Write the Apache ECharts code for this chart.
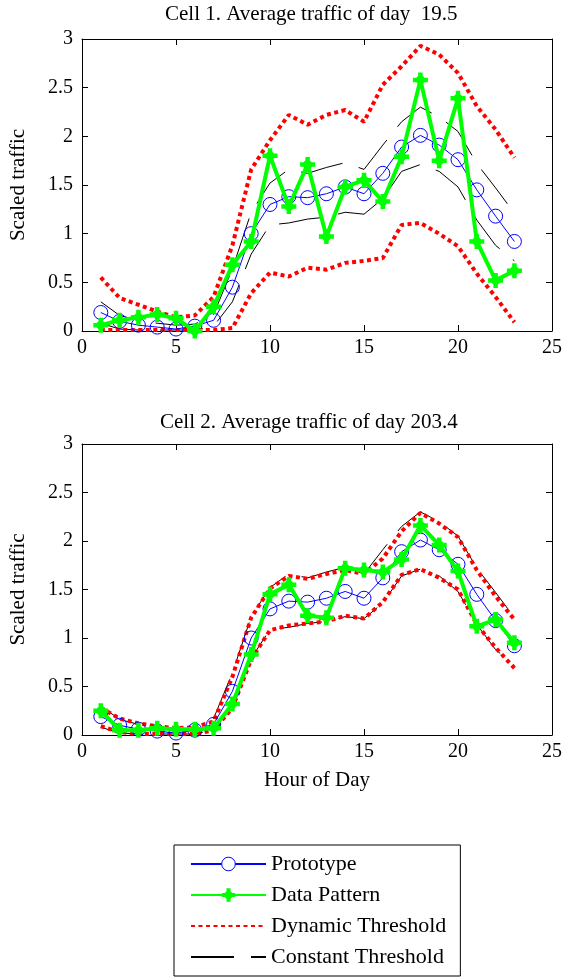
<!DOCTYPE html>
<html><head><meta charset="utf-8">
<script src="https://cdn.jsdelivr.net/npm/echarts@6/dist/echarts.min.js"></script>
<style>html,body{margin:0;padding:0;background:#fff}#c{width:565px;height:978px}</style>
</head><body><div id="c"></div>
<script>
const hours = [1,2,3,4,5,6,7,8,9,10,11,12,13,14,15,16,17,18,19,20,21,22,23];
const xTicks = [0,5,10,15,20,25];
const yTicks = [0,0.5,1,1.5,2,2.5,3];
const titles = ['Cell 1. Average traffic of day  19.5', 'Cell 2. Average traffic of day 203.4'];

const prototype = [0.19,0.10,0.06,0.04,0.02,0.05,0.11,0.45,1.00,1.30,1.38,1.37,1.41,1.48,1.41,1.62,1.89,2.01,1.91,1.76,1.45,1.18,0.92];
const constUpper = [0.30,0.16,0.11,0.08,0.06,0.07,0.17,0.64,1.22,1.52,1.66,1.62,1.68,1.73,1.66,1.91,2.15,2.30,2.20,2.05,1.72,1.47,1.21];
const constLower = [0.08,0.02,0.01,0.01,0.01,0.01,0.05,0.30,0.79,1.09,1.11,1.15,1.17,1.22,1.20,1.36,1.64,1.71,1.64,1.48,1.14,0.88,0.72];

const cell1Data = [0.06,0.11,0.14,0.17,0.13,0.00,0.25,0.68,0.92,1.80,1.28,1.71,0.97,1.48,1.55,1.33,1.79,2.58,1.75,2.39,0.92,0.52,0.62];
const cell1DynUpper = [0.55,0.34,0.27,0.20,0.14,0.16,0.35,0.88,1.66,1.96,2.22,2.12,2.22,2.27,2.15,2.53,2.72,2.93,2.84,2.65,2.31,2.07,1.78];
const cell1DynLower = [0.01,0.01,0.01,0.01,0.01,0.01,0.01,0.03,0.39,0.60,0.56,0.65,0.63,0.70,0.72,0.75,1.09,1.11,1.00,0.87,0.59,0.35,0.09];

const cell2Data = [0.25,0.05,0.05,0.07,0.06,0.06,0.07,0.32,0.83,1.45,1.55,1.23,1.21,1.72,1.70,1.68,1.81,2.16,1.96,1.69,1.12,1.19,0.95];
const cell2DynUpper = [0.28,0.17,0.12,0.09,0.07,0.08,0.14,0.60,1.21,1.51,1.64,1.61,1.66,1.70,1.66,1.82,2.10,2.29,2.18,2.04,1.70,1.43,1.19];
const cell2DynLower = [0.09,0.03,0.01,0.01,0.01,0.01,0.05,0.28,0.78,1.08,1.13,1.15,1.17,1.23,1.20,1.37,1.65,1.71,1.62,1.50,1.14,0.90,0.69];

const FONT = 'Liberation Serif';
const starPath = 'path://M-0.3,-1 L0.3,-1 L0.3,-0.3 L1,-0.3 L1,0.3 L0.3,0.3 L0.3,1 L-0.3,1 L-0.3,0.3 L-1,0.3 L-1,-0.3 L-0.3,-0.3 Z M0,-0.85 L0.85,0 L0,0.85 L-0.85,0 Z';

const pair = arr => hours.map((h, i) => [h, arr[i]]);

const grids = [
  {left: 82, right: 11, top: 39, height: 292},
  {left: 82, right: 11, top: 444, height: 291}
];

const xAxis = [], yAxis = [], series = [];
grids.forEach((g, gi) => {
  const base = {
    type: 'value', gridIndex: gi, min: xTicks[0], max: xTicks[xTicks.length-1], interval: xTicks[1]-xTicks[0],
    axisLine: {show: true, onZero: false, lineStyle: {color: '#000', width: 1}},
    axisTick: {show: true, inside: true, length: 6, lineStyle: {color: '#000', width: 1}},
    splitLine: {show: false}
  };
  xAxis.push(Object.assign({}, base, {
    position: 'bottom',
    axisLabel: {color: '#000', fontFamily: FONT, fontSize: 20, margin: 7},
    name: gi === 1 ? 'Hour of Day' : '',
    nameLocation: 'middle', nameGap: 35,
    nameTextStyle: {color: '#000', fontFamily: FONT, fontSize: 21}
  }));
  xAxis.push(Object.assign({}, base, {position: 'top', axisLabel: {show: false}}));
  const ybase = {
    type: 'value', gridIndex: gi, min: yTicks[0], max: yTicks[yTicks.length-1], interval: yTicks[1]-yTicks[0],
    axisLine: {show: true, onZero: false, lineStyle: {color: '#000', width: 1}},
    axisTick: {show: true, inside: true, length: 6, lineStyle: {color: '#000', width: 1}},
    splitLine: {show: false}
  };
  yAxis.push(Object.assign({}, ybase, {
    position: 'left',
    axisLabel: {color: '#000', fontFamily: FONT, fontSize: 20, margin: 9},
    name: 'Scaled traffic', nameLocation: 'middle', nameGap: 53,
    nameTextStyle: {color: '#000', fontFamily: FONT, fontSize: 21}
  }));
  yAxis.push(Object.assign({}, ybase, {position: 'right', axisLabel: {show: false}}));
});

function addSeries(gi, dataArr, dynU, dynL) {
  const ax = {xAxisIndex: gi*2, yAxisIndex: gi*2};
  [constUpper, constLower].forEach(a => series.push(Object.assign({
    type: 'line', name: 'Constant Threshold', data: pair(a), symbol: 'none', z: 2,
    lineStyle: {color: '#000', width: 1, type: [43, 17]}, itemStyle: {color: '#000'}
  }, ax)));
  [dynU, dynL].forEach(a => series.push(Object.assign({
    type: 'line', name: 'Dynamic Threshold', data: pair(a), symbol: 'none', z: 3,
    lineStyle: {color: '#ff0000', width: 4, type: [4, 3.5], cap: 'butt'}, itemStyle: {color: '#ff0000'}
  }, ax)));
  series.push(Object.assign({
    type: 'line', name: 'Prototype', data: pair(prototype), symbol: 'circle', symbolSize: 14, z: 4,
    lineStyle: {color: '#0000ff', width: 1},
    itemStyle: {color: 'rgba(0,0,0,0)', borderColor: '#0000ff', borderWidth: 1}
  }, ax));
  series.push(Object.assign({
    type: 'line', name: 'Data Pattern', data: pair(dataArr), symbol: starPath, symbolSize: 15, z: 5,
    lineStyle: {color: '#00ff00', width: 4},
    itemStyle: {color: '#00ff00'}
  }, ax));
}
addSeries(0, cell1Data, cell1DynUpper, cell1DynLower);
addSeries(1, cell2Data, cell2DynUpper, cell2DynLower);

const hidden = {color: 'rgba(0,0,0,0)', borderColor: 'rgba(0,0,0,0)', borderWidth: 0, opacity: 0};
const chart = echarts.init(document.getElementById('c'), null, {renderer: 'canvas'});
chart.setOption({
  animation: false,
  backgroundColor: '#fff',
  title: [
    {text: titles[0], left: 165, top: 4, padding: 0, textStyle: {fontFamily: FONT, fontSize: 21, fontWeight: 'normal', color: '#000'}},
    {text: titles[1], left: 160, top: 412, padding: 0, textStyle: {fontFamily: FONT, fontSize: 21, fontWeight: 'normal', color: '#000'}}
  ],
  grid: grids,
  xAxis, yAxis, series,
  legend: {
    orient: 'vertical', left: 174, top: 845,
    padding: [8, 14, 8, 16],
    itemWidth: 75, itemHeight: 17, itemGap: 9,
    backgroundColor: '#fff', borderColor: '#000', borderWidth: 1, borderRadius: 0,
    textStyle: {fontFamily: FONT, fontSize: 22, color: '#000', lineHeight: 22},
    data: [
      {name: 'Prototype', itemStyle: {color: '#ffffff', borderColor: '#0000ff', borderWidth: 1}},
      'Data Pattern',
      {name: 'Dynamic Threshold', itemStyle: hidden},
      {name: 'Constant Threshold', itemStyle: hidden}
    ]
  }
});
</script></body></html>
